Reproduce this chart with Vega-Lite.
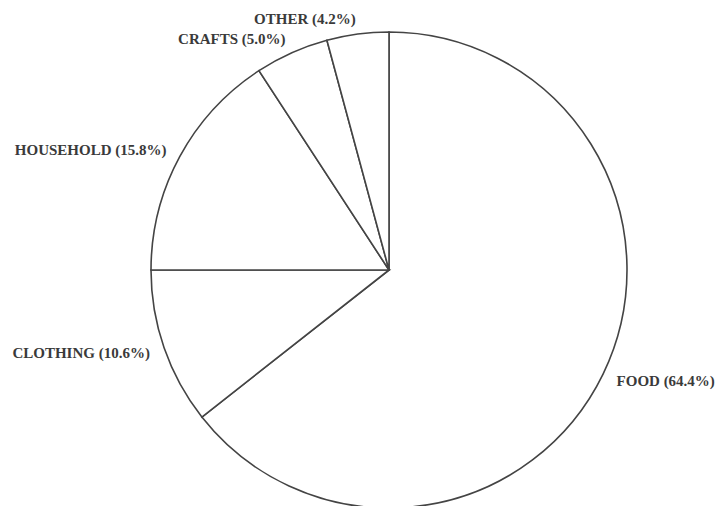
{
  "$schema": "https://vega.github.io/schema/vega-lite/v6.json",
  "width": 664,
  "height": 472,
  "autosize": {"type": "none"},
  "padding": {"left": 57, "top": 34, "right": 1, "bottom": 0},
  "background": "white",
  "config": {"view": {"stroke": null}},
  "data": {
    "values": [
      {"category": "FOOD", "value": 64.4, "order": 1, "label": "FOOD (64.4%)"},
      {"category": "CLOTHING", "value": 10.6, "order": 2, "label": "CLOTHING (10.6%)"},
      {"category": "HOUSEHOLD", "value": 15.8, "order": 3, "label": "HOUSEHOLD (15.8%)"},
      {"category": "CRAFTS", "value": 5.0, "order": 4, "label": "CRAFTS (5.0%)"},
      {"category": "OTHER", "value": 4.2, "order": 5, "label": "OTHER (4.2%)"}
    ]
  },
  "encoding": {
    "theta": {"field": "value", "type": "quantitative", "stack": true},
    "order": {"field": "order", "type": "quantitative"}
  },
  "layer": [
    {
      "mark": {"type": "arc", "outerRadius": 238, "fill": "white", "stroke": "#444444", "strokeWidth": 1.6}
    },
    {
      "mark": {"type": "text", "radius": 253, "align": "left", "baseline": "middle", "font": "Liberation Serif", "fontWeight": "bold", "fontSize": 15, "fill": "#3a3a3a"},
      "encoding": {
        "text": {"condition": {"test": "datum.category === 'FOOD'", "field": "label"}, "value": ""}
      }
    },
    {
      "mark": {"type": "text", "radius": 253, "align": "right", "baseline": "middle", "font": "Liberation Serif", "fontWeight": "bold", "fontSize": 15, "fill": "#3a3a3a"},
      "encoding": {
        "text": {"condition": {"test": "datum.category !== 'FOOD'", "field": "label"}, "value": ""}
      }
    }
  ]
}
